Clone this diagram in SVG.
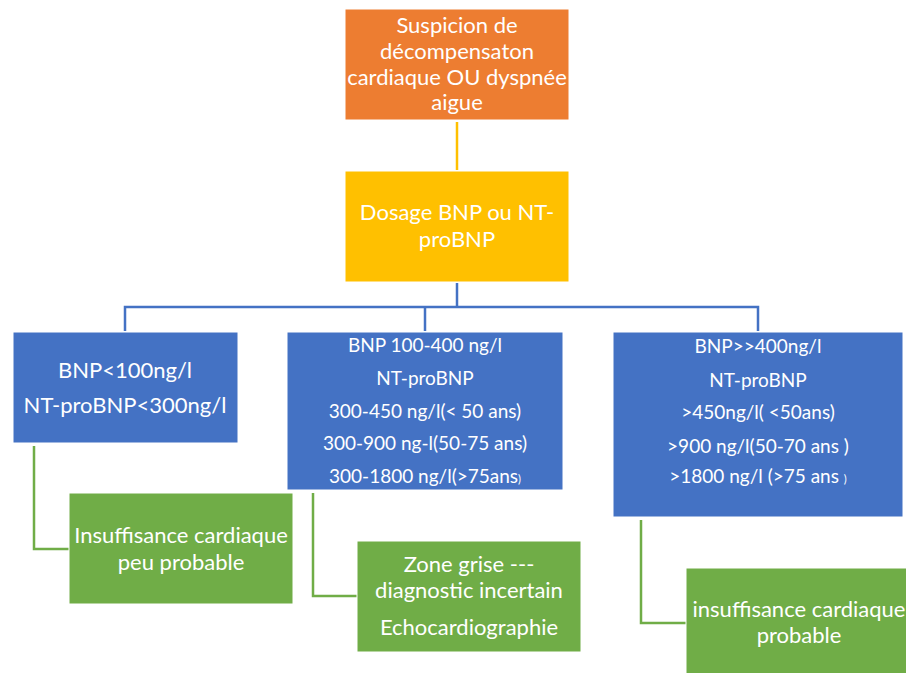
<svg xmlns="http://www.w3.org/2000/svg" width="906" height="673" viewBox="0 0 906 673">
  <style>
    .box { stroke: #ffffff; stroke-width: 1; }
    .orange { fill: #ED7D31; }
    .yellow { fill: #FFC000; }
    .blue { fill: #4472C4; }
    .green { fill: #70AD47; }
    text { font-family: Lato, "Liberation Sans", sans-serif; fill: #ffffff; text-anchor: middle; }
    .lg { font-size: 22px; }
    .md { font-size: 19px; }
    .sm { font-size: 11px; }
    .link { fill: none; stroke-width: 2.5; }
  </style>
  <rect width="906" height="673" fill="#ffffff"/>

  <!-- connectors -->
  <g id="connectors">
    <line class="link" x1="457" y1="122" x2="457" y2="170" stroke="#FFC000"/>
    <polyline class="link" points="457,283 457,307" stroke="#4472C4"/>
    <polyline class="link" points="125,331 125,307 758,307 758,331" stroke="#4472C4"/>
    <line class="link" x1="425" y1="307" x2="425" y2="331" stroke="#4472C4"/>
    <polyline class="link" points="34,446 34,549 69,549" stroke="#70AD47"/>
    <polyline class="link" points="313,493 313,596 357,596" stroke="#70AD47"/>
    <polyline class="link" points="641,520 641,623 686,623" stroke="#70AD47"/>
  </g>

  <g id="suspicion">
    <rect class="box orange" x="345" y="9" width="224" height="111"/>
    <text class="lg" x="457" y="33">Suspicion de</text>
    <text class="lg" x="457" y="59">décompensaton</text>
    <text class="lg" x="457" y="85">cardiaque OU dyspnée</text>
    <text class="lg" x="457" y="110">aigue</text>
  </g>

  <g id="dosage">
    <rect class="box yellow" x="345" y="171" width="224" height="111"/>
    <text class="lg" x="457" y="220">Dosage BNP ou NT-</text>
    <text class="lg" x="457" y="247">proBNP</text>
  </g>

  <g id="bnp-bas">
    <rect class="box blue" x="13" y="332" width="225" height="111"/>
    <text class="lg" x="125" y="378">BNP&lt;100ng/l</text>
    <text class="lg" x="125" y="413">NT-proBNP&lt;300ng/l</text>
  </g>

  <g id="bnp-intermediaire">
    <rect class="box blue" x="287" y="332" width="276" height="158"/>
    <text class="md" x="425" y="352">BNP 100-400 ng/l</text>
    <text class="md" x="425" y="385">NT-proBNP</text>
    <text class="md" x="425" y="418">300-450 ng/l(&lt; 50 ans)</text>
    <text class="md" x="425" y="450">300-900 ng-l(50-75 ans)</text>
    <text class="md" x="425" y="483">300-1800 ng/l(&gt;75ans<tspan class="sm">)</tspan></text>
  </g>

  <g id="bnp-eleve">
    <rect class="box blue" x="613" y="332" width="290" height="185"/>
    <text class="md" x="758" y="353">BNP&gt;&gt;400ng/l</text>
    <text class="md" x="758" y="387">NT-proBNP</text>
    <text class="md" x="758" y="419">&gt;450ng/l( &lt;50ans)</text>
    <text class="md" x="758" y="453">&gt;900 ng/l(50-70 ans )</text>
    <text class="md" x="758" y="483">&gt;1800 ng/l (&gt;75 ans <tspan class="sm">)</tspan></text>
  </g>

  <g id="ic-peu-probable">
    <rect class="box green" x="69" y="493" width="224" height="111"/>
    <text class="lg" x="181" y="543">Insuffisance cardiaque</text>
    <text class="lg" x="181" y="570">peu probable</text>
  </g>

  <g id="zone-grise">
    <rect class="box green" x="357" y="541" width="224" height="111"/>
    <text class="lg" x="469" y="572">Zone grise ---</text>
    <text class="lg" x="469" y="598">diagnostic incertain</text>
    <text class="lg" x="469" y="635">Echocardiographie</text>
  </g>

  <g id="ic-probable">
    <rect class="box green" x="686" y="568" width="226" height="106"/>
    <text class="lg" x="799" y="617">insuffisance cardiaque</text>
    <text class="lg" x="799" y="643">probable</text>
  </g>
</svg>
